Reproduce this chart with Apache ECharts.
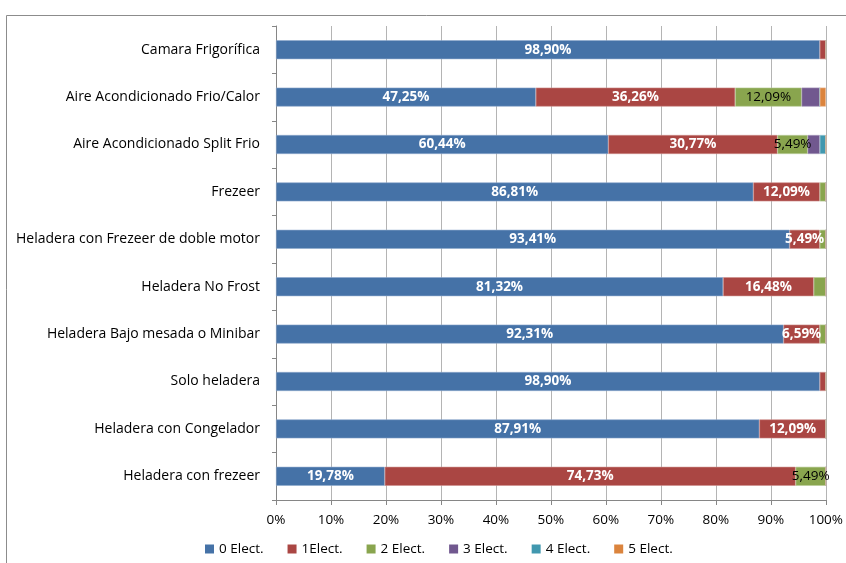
<!DOCTYPE html>
<html>
<head>
<meta charset="utf-8">
<script src="https://cdn.jsdelivr.net/npm/echarts@6/dist/echarts.min.js"></script>
<style>
  html, body { margin: 0; padding: 0; background: #fff; }
  #chart { width: 846px; height: 563px; }
</style>
</head>
<body>
<div id="chart"></div>
<script>
// Appliance categories, top to bottom
const categories = [
  'Camara Frigorífica',
  'Aire Acondicionado Frio/Calor',
  'Aire Acondicionado Split Frio',
  'Frezeer',
  'Heladera con Frezeer de doble motor',
  'Heladera No Frost',
  'Heladera Bajo mesada o Minibar',
  'Solo heladera',
  'Heladera con Congelador',
  'Heladera con frezeer'
];

const seriesNames = ['0 Elect.', '1Elect.', '2 Elect.', '3 Elect.', '4 Elect.', '5 Elect.'];

// Share (%) of each appliance type by number of elect. entries
const elect0 = [98.90, 47.25, 60.44, 86.81, 93.41, 81.32, 92.31, 98.90, 87.91, 19.78];
const elect1 = [1.10, 36.26, 30.77, 12.09, 5.49, 16.48, 6.59, 1.10, 12.09, 74.73];
const elect2 = [0, 12.09, 5.49, 1.10, 1.10, 2.20, 1.10, 0, 0, 5.49];
const elect3 = [0, 3.30, 2.20, 0, 0, 0, 0, 0, 0, 0];
const elect4 = [0, 0, 1.10, 0, 0, 0, 0, 0, 0, 0];
const elect5 = [0, 1.10, 0, 0, 0, 0, 0, 0, 0, 0];

const xTicks = [0, 10, 20, 30, 40, 50, 60, 70, 80, 90, 100];

const values = [elect0, elect1, elect2, elect3, elect4, elect5];
const colors = ['#4572A7', '#AA4643', '#89A54E', '#71588F', '#4198AF', '#DB843D'];
const edgeColors = ['#8fa9cc', '#cc8e8c', '#b5c993', '#a191b5', '#8cc2d1', '#eab48c'];
const labelStyles = [
  { color: '#ffffff', fontWeight: 'bold' },
  { color: '#ffffff', fontWeight: 'bold' },
  { color: '#000000', fontWeight: 'normal' },
  { color: '#000000', fontWeight: 'normal' },
  { color: '#000000', fontWeight: 'normal' },
  { color: '#000000', fontWeight: 'normal' }
];

const FONT = 'Open Sans';

const fmt = v => v.toFixed(2).replace('.', ',') + '%';

const series = values.map((arr, i) => ({
  name: seriesNames[i],
  type: 'bar',
  stack: 'total',
  barWidth: '40%',
  data: arr,
  itemStyle: { color: colors[i], borderColor: edgeColors[i], borderWidth: 0.6 },
  label: {
    show: true,
    position: 'inside',
    fontFamily: FONT,
    fontSize: 13.5,
    color: labelStyles[i].color,
    fontWeight: labelStyles[i].fontWeight,
    formatter: p => (p.value >= 5 ? fmt(p.value) : '')
  },
  emphasis: { disabled: true }
}));

const chart = echarts.init(document.getElementById('chart'), null, { renderer: 'canvas' });
chart.setOption({
  animation: false,
  textStyle: { fontFamily: FONT },
  graphic: [{
    type: 'rect',
    shape: { x: 6.5, y: 15.5, width: 900, height: 600 },
    style: { fill: 'none', stroke: '#8c8c8c', lineWidth: 1 },
    silent: true,
    z: -1
  }],
  grid: { left: 276, right: 18, top: 26, bottom: 63, containLabel: false },
  legend: {
    bottom: 2,
    left: 200,
    itemWidth: 9,
    itemHeight: 9,
    itemGap: 24,
    icon: 'rect',
    itemStyle: { borderWidth: 0 },
    textStyle: { fontFamily: FONT, fontSize: 13.5, color: '#000' },
    data: seriesNames
  },
  xAxis: {
    type: 'value',
    min: 0,
    max: 100,
    interval: 10,
    axisLine: { show: true, lineStyle: { color: '#868686' } },
    axisTick: { show: true, length: 5, lineStyle: { color: '#868686' } },
    axisLabel: {
      formatter: v => (xTicks.includes(v) ? v + '%' : ''),
      fontFamily: FONT, fontSize: 13.5, color: '#000', margin: 13
    },
    splitLine: { show: true, lineStyle: { color: '#b4b4b4', width: 1 } }
  },
  yAxis: {
    type: 'category',
    inverse: true,
    data: categories,
    axisLine: { show: true, lineStyle: { color: '#868686' } },
    axisTick: { show: true, length: 4, lineStyle: { color: '#868686' } },
    axisLabel: { fontFamily: FONT, fontSize: 14, color: '#000', margin: 16 },
    splitLine: { show: false }
  },
  series: series
});
</script>
</body>
</html>
